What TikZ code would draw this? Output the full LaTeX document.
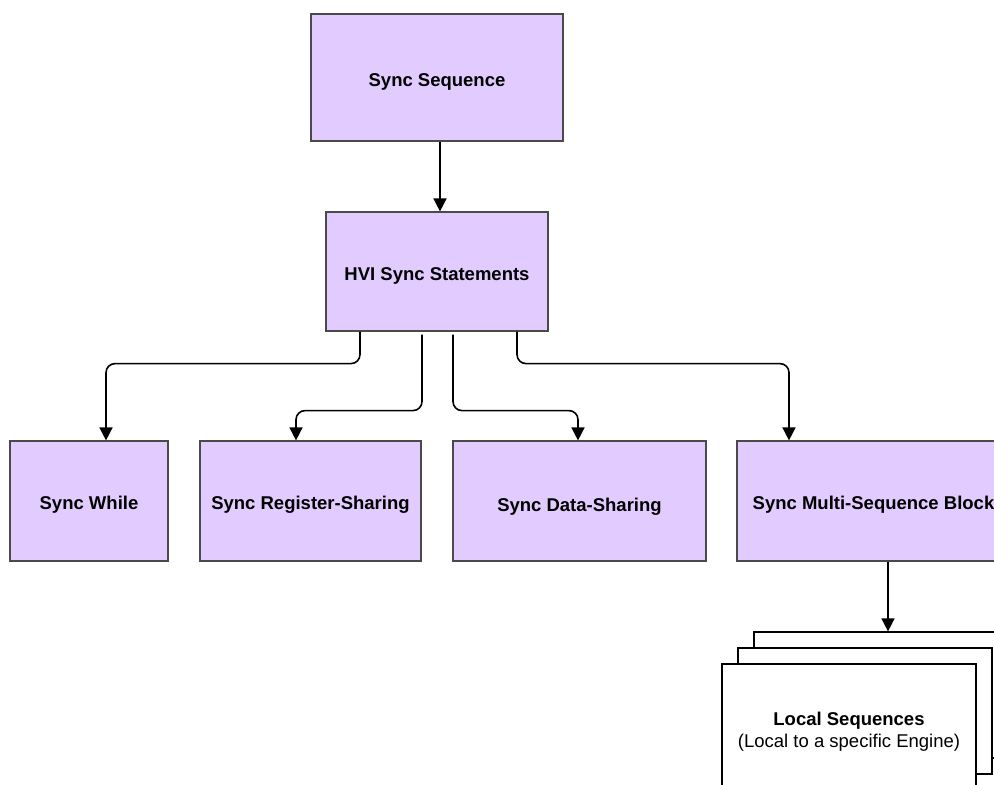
\documentclass[tikz,border=0pt]{standalone}
\usepackage{fontspec}
\setmainfont{Liberation Sans}
\usepackage{tikz}
\usetikzlibrary{arrows.meta}
\usetikzlibrary{positioning}
\definecolor{lavender}{HTML}{E2CCFF}
\definecolor{boxline}{HTML}{4A4A4A}

\begin{document}
\begin{tikzpicture}[x=1pt, y=-1pt,
  block/.style = {draw=boxline, line width=1.2pt, fill=lavender, inner sep=0pt,
                  text height=20pt, text depth=2.5pt,
                  font=\fontsize{18.5}{22}\selectfont\bfseries, align=center},
  sheet/.style = {draw=black, line width=1.2pt, fill=white, inner sep=0pt,
                  minimum width=254pt, minimum height=126pt, align=center,
                  font=\fontsize{18.5}{21.5}\selectfont},
  conn/.style  = {line width=1.6pt, rounded corners=9pt,
                  -{Triangle[length=13pt, width=13pt]}}]

% Fix the size of the page
\useasboundingbox (0,0) rectangle (994,785);
\clip (0,0) rectangle (994,785);

% Draw the top blocks
\node[block, minimum width=252pt, minimum height=127pt] (seq) at (437,77.5) {Sync Sequence};
\node[block, minimum width=222pt, minimum height=119pt] (hvi) at (437,271.5) {HVI Sync Statements};

% Draw the row of statements
\node[block, minimum width=158pt, minimum height=120pt] (while) at (89,501) {Sync While};
\node[block, minimum width=221pt, minimum height=120pt] (reg) at (310.5,501) {Sync Register-Sharing};
\node[block, minimum width=253pt, minimum height=120pt, text height=24pt] (data) at (579.5,501) {Sync Data-Sharing};
\node[block, minimum width=273pt, minimum height=120pt] (multi) at (873.5,501) {Sync Multi-Sequence Block};

% Draw the stack of local sequences
\node[sheet] (back) at (881,695) {};
\node[sheet] (middle) at (865,711) {};
\node[sheet] (front) at (849,727) {\rule{0pt}{23pt}\textbf{Local Sequences}\\(Local to a specific Engine)};

% Draw the arrows
\draw[conn] ([xshift=3pt]seq.south) -- ([xshift=3pt]hvi.north);
\draw[conn] ([xshift=-77pt]hvi.south) -- ++(0,32) -| ([xshift=17pt]while.north);
\draw[conn] ([xshift=-15pt,yshift=-3pt]hvi.south) -- ++(0,76) -| ([xshift=-14.5pt]reg.north);
\draw[conn] ([xshift=16pt,yshift=-3pt]hvi.south) -- ++(0,76) -| ([xshift=-1.5pt]data.north);
\draw[conn] ([xshift=80pt]hvi.south) -- ++(0,32) -| ([xshift=-84.5pt]multi.north);
\draw[conn] ([xshift=14.5pt]multi.south) -- ([xshift=14.5pt]multi.south |- back.north);

\end{tikzpicture}
\end{document}
